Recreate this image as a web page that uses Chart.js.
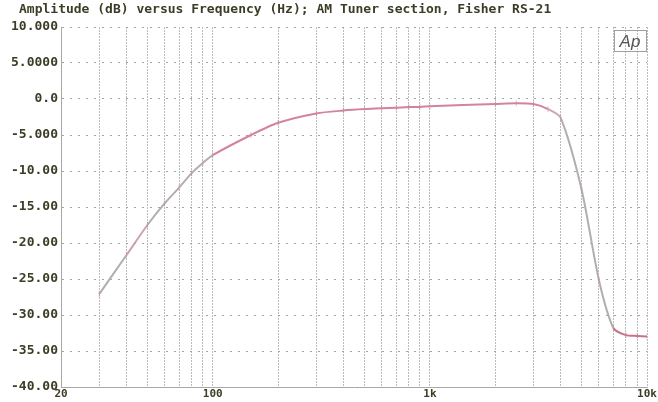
<!DOCTYPE html>
<html lang="en">
<head>
  <meta charset="UTF-8">
  <title>AM Tuner section, Fisher RS-21</title>
  <script src="https://cdn.jsdelivr.net/npm/chart.js"></script>
  <style>
    html, body { margin: 0; padding: 0; background: #ffffff; }
    #wrap { width: 658px; height: 402px; position: relative; }
  </style>
</head>
<body>
  <div id="wrap">
    <canvas id="graphic"></canvas>
  </div>

  <script>
    // measured points (Hz / dB)
    const frequencies = [30, 40, 50, 60, 70, 80, 90, 100, 150, 200, 300, 400, 500, 600, 700, 800, 900,
      1000, 2000, 2500, 3000, 3500, 4000, 5000, 6000, 7000, 8000, 9000, 10000];
    const amplitudes = [-27.1, -21.7, -17.5, -14.5, -12.3, -10.3, -8.9, -7.8, -5.0, -3.3, -2.0, -1.6, -1.4, -1.3, -1.2, -1.1, -1.1,
      -1.0, -0.7, -0.6, -0.7, -1.4, -2.6, -12.6, -25.1, -31.8, -32.8, -32.9, -33.0];

    const yTickValues = [10, 5, 0, -5, -10, -15, -20, -25, -30, -35, -40];
    const yTickLabels = ['10.000', '5.0000', '0.0', '-5.000', '-10.00', '-15.00', '-20.00', '-25.00', '-30.00', '-35.00', '-40.00'];
    const xTickValues = [20, 100, 1000, 10000];
    const xTickLabels = ['20', '100', '1k', '10k'];

    const chartTitle = 'Amplitude (dB) versus Frequency (Hz); AM Tuner section, Fisher RS-21';

    const inkColor = '#3d3d27';
    const monoFont = '"DejaVu Sans Mono", "Liberation Mono", monospace';

    const pink = '#d3849d';
    const gray = '#b1aeb0';
    const redPink = '#c47484';

    function segColor(ctx) {
      const f = ctx.p0.parsed.x;
      if (f < 40) return gray;
      if (f < 50) return '#c9a3b0';
      if (f < 100) return gray;
      if (f < 3500) return pink;
      if (f < 4000) return '#c6a6b4';
      if (f < 7000) return gray;
      return redPink;
    }

    const extras = {
      id: 'extras',
      afterDraw(chart) {
        const c = chart.ctx;
        c.save();
        c.fillStyle = inkColor;
        c.font = 'bold 13px ' + monoFont;
        c.textBaseline = 'middle';
        c.textAlign = 'left';
        c.fillText(chartTitle, 19, 10);

        // Ap logo
        c.strokeStyle = '#a0a0a0';
        c.lineWidth = 1;
        c.strokeRect(614.5, 30.5, 32, 21);
        c.fillStyle = '#555555';
        c.font = 'italic 17px "Liberation Sans", Arial, sans-serif';
        c.textAlign = 'center';
        c.fillText('Ap', 630, 42);
        c.restore();
      }
    };

    const lienzo = document.getElementById('graphic');
    const grafico = new Chart(lienzo, {
      type: 'line',
      data: {
        datasets: [{
          label: 'Amplitude',
          data: frequencies.map((f, i) => ({ x: f, y: amplitudes[i] })),
          borderColor: pink,
          borderWidth: 2,
          tension: 0.25,
          pointRadius: 3,
          pointStyle: 'line',
          rotation: 90,
          pointBorderColor: 'rgba(211,132,157,0.55)',
          pointBorderWidth: 1,
          segment: { borderColor: segColor }
        }]
      },
      options: {
        responsive: true,
        maintainAspectRatio: false,
        animation: false,
        layout: { padding: { top: 27, right: 11, left: 0, bottom: 0 } },
        plugins: {
          legend: { display: false },
          tooltip: { enabled: false }
        },
        scales: {
          x: {
            type: 'logarithmic',
            min: 20,
            max: 10000,
            afterFit(scale) { scale.height = 15; },
            afterBuildTicks(scale) {
              const t = [];
              for (let d = 10; d <= 10000; d *= 10) {
                for (let m = 1; m < 10; m++) {
                  const v = d * m;
                  if (v >= 20 && v <= 10000) t.push({ value: v });
                }
              }
              scale.ticks = t;
            },
            grid: {
              color: '#bcbcbc',
              lineWidth: 1,
              tickLength: 0,
              drawTicks: false
            },
            border: { display: true, color: '#a8a8a8', dash: [2, 1] },
            ticks: {
              autoSkip: false,
              maxRotation: 0,
              padding: 1,
              color: inkColor,
              font: { family: monoFont, size: 11, weight: 'bold' },
              callback(v) {
                const i = xTickValues.indexOf(v);
                return i >= 0 ? xTickLabels[i] : '';
              }
            }
          },
          y: {
            min: -40,
            max: 10,
            afterFit(scale) { scale.width = 61; },
            afterBuildTicks(scale) {
              scale.ticks = yTickValues.map(v => ({ value: v }));
            },
            grid: {
              color: '#a4a4a4',
              lineWidth: 1,
              tickLength: 0,
              drawTicks: false
            },
            border: { display: true, color: '#a8a8a8', dash: [2, 6] },
            ticks: {
              padding: 3,
              color: inkColor,
              font: { family: monoFont, size: 13, weight: 'bold' },
              callback(v) {
                const i = yTickValues.indexOf(v);
                return i >= 0 ? yTickLabels[i] : '';
              }
            }
          }
        }
      },
      plugins: [extras]
    });
  </script>
</body>
</html>
